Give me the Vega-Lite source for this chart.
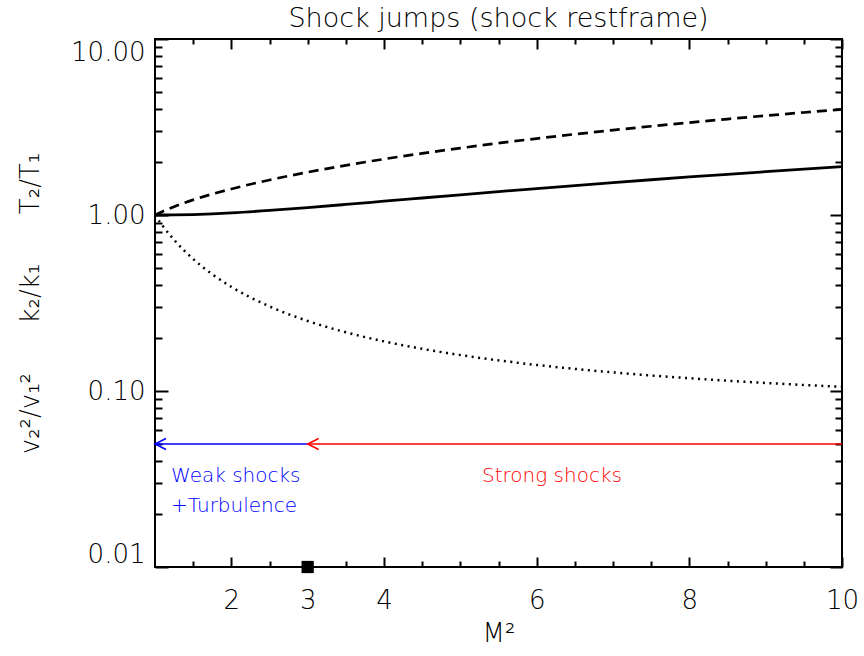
{
  "$schema": "https://vega.github.io/schema/vega-lite/v6.json",
  "autosize": "none",
  "width": 687,
  "height": 528,
  "padding": {"left": 155, "top": 39, "right": 22, "bottom": 89},
  "background": "white",
  "title": {"text": "Shock jumps (shock restframe)", "fontSize": 27, "fontWeight": 200, "font": "DejaVu Sans", "color": "black", "offset": 5, "anchor": "middle"},
  "config": {
    "font": "DejaVu Sans",
    "view": {"stroke": "black", "strokeWidth": 2},
    "axis": {"grid": false, "domain": false, "tickColor": "black", "tickWidth": 2, "labelColor": "black", "titleColor": "black", "labelFont": "DejaVu Sans", "titleFont": "DejaVu Sans", "labelFontWeight": 200, "labelOverlap": false}
  },
  "datasets": {
    "jumps": [
      {"m": 1, "T": 1, "K": 1, "V": 1},
      {"m": 1.1, "T": 1.0483, "K": 1.0001, "V": 0.8683},
      {"m": 1.25, "T": 1.1156, "K": 1.0011, "V": 0.7225},
      {"m": 1.5, "T": 1.2188, "K": 1.0061, "V": 0.5625},
      {"m": 1.75, "T": 1.3147, "K": 1.0153, "V": 0.4605},
      {"m": 2, "T": 1.4063, "K": 1.028, "V": 0.3906},
      {"m": 2.5, "T": 1.5813, "K": 1.0615, "V": 0.3025},
      {"m": 3, "T": 1.75, "K": 1.1024, "V": 0.25},
      {"m": 3.5, "T": 1.9152, "K": 1.1483, "V": 0.2156},
      {"m": 4, "T": 2.0781, "K": 1.1976, "V": 0.1914},
      {"m": 4.5, "T": 2.2396, "K": 1.2494, "V": 0.1736},
      {"m": 5, "T": 2.4, "K": 1.3029, "V": 0.16},
      {"m": 5.5, "T": 2.5597, "K": 1.3578, "V": 0.1493},
      {"m": 6, "T": 2.7188, "K": 1.4138, "V": 0.1406},
      {"m": 6.5, "T": 2.8774, "K": 1.4706, "V": 0.1335},
      {"m": 7, "T": 3.0357, "K": 1.5281, "V": 0.1276},
      {"m": 7.5, "T": 3.1938, "K": 1.5862, "V": 0.1225},
      {"m": 8, "T": 3.3516, "K": 1.6447, "V": 0.1182},
      {"m": 8.5, "T": 3.5092, "K": 1.7035, "V": 0.1144},
      {"m": 9, "T": 3.6667, "K": 1.7628, "V": 0.1111},
      {"m": 9.5, "T": 3.824, "K": 1.8222, "V": 0.1082},
      {"m": 10, "T": 3.9813, "K": 1.882, "V": 0.1056}
    ],
    "regimes": [
      {"kind": "weak", "from": 1, "to": 3, "level": 0.05},
      {"kind": "strong", "from": 3, "to": 10, "level": 0.05}
    ],
    "notes": [
      {"kind": "weak", "label": "Weak shocks", "m": 1.21, "y": 0.0329, "anchor": "left"},
      {"kind": "weak", "label": "+Turbulence", "m": 1.21, "y": 0.0222, "anchor": "left"},
      {"kind": "strong", "label": "Strong shocks", "m": 6.2, "y": 0.0329, "anchor": "center"}
    ],
    "marker": [{"m": 3, "y": 0.01}]
  },
  "resolve": {"axis": {"x": "independent", "y": "independent"}},
  "layer": [
    {
      "data": {"name": "jumps"},
      "mark": {"type": "line", "color": "black", "strokeWidth": 2.7, "strokeDash": [10, 6], "interpolate": "monotone"},
      "encoding": {
        "x": {"field": "m", "type": "quantitative", "scale": {"domain": [1, 10], "nice": false, "zero": false},
          "axis": {"orient": "bottom", "values": [2, 3, 4, 6, 8, 10], "ticks": false, "labelPadding": 20, "labelFontSize": 26, "labelFlush": false, "format": "d", "title": "M²", "titleFontSize": 26, "titleFontWeight": 200, "titleY": 66, "titleBaseline": "middle"}},
        "y": {"field": "T", "type": "quantitative", "scale": {"type": "log", "domain": [0.01, 10], "nice": false},
          "axis": {"orient": "left", "values": [0.01, 0.1, 1, 10], "format": ".2f", "ticks": false, "labelPadding": 10, "labelFontSize": 26, "labelFlush": true,
            "title": "v₂²/v₁²\u00a0\u00a0\u00a0\u00a0\u00a0\u00a0k₂/k₁\u00a0\u00a0\u00a0\u00a0\u00a0\u00a0T₂/T₁", "titleFontSize": 26, "titleFontWeight": 200, "titleAngle": -90, "titleX": -125, "titleY": 264, "titleAlign": "center", "titleBaseline": "middle"}}
      }
    },
    {
      "data": {"name": "jumps"},
      "mark": {"type": "line", "color": "black", "strokeWidth": 2.8, "interpolate": "monotone"},
      "encoding": {
        "x": {"field": "m", "type": "quantitative", "scale": {"domain": [1, 10], "nice": false, "zero": false},
          "axis": {"orient": "bottom", "values": [2, 4, 6, 8, 10], "labels": false, "tickSize": -10, "title": null}},
        "y": {"field": "K", "type": "quantitative", "scale": {"type": "log", "domain": [0.01, 10], "nice": false},
          "axis": {"orient": "left", "values": [0.01, 0.1, 1, 10], "labels": false, "tickSize": -13, "title": null}}
      }
    },
    {
      "data": {"name": "jumps"},
      "mark": {"type": "line", "color": "black", "strokeWidth": 2.5, "strokeDash": [2, 4.5], "interpolate": "monotone"},
      "encoding": {
        "x": {"field": "m", "type": "quantitative", "scale": {"domain": [1, 10], "nice": false, "zero": false},
          "axis": {"orient": "bottom", "values": [1.5, 2.5, 3, 3.5, 4.5, 5, 5.5, 6.5, 7, 7.5, 8.5, 9, 9.5], "labels": false, "tickSize": -6, "title": null}},
        "y": {"field": "V", "type": "quantitative", "scale": {"type": "log", "domain": [0.01, 10], "nice": false},
          "axis": {"orient": "left", "values": [0.02, 0.03, 0.04, 0.05, 0.06, 0.07, 0.08, 0.09, 0.2, 0.3, 0.4, 0.5, 0.6, 0.7, 0.8, 0.9, 2, 3, 4, 5, 6, 7, 8, 9], "labels": false, "tickSize": -7, "title": null}}
      }
    },
    {
      "data": {"name": "regimes"},
      "mark": {"type": "rule", "strokeWidth": 1.5},
      "encoding": {
        "x": {"field": "from", "type": "quantitative", "scale": {"domain": [1, 10], "nice": false, "zero": false},
          "axis": {"orient": "top", "values": [2, 4, 6, 8, 10], "labels": false, "tickSize": -10, "title": null}},
        "x2": {"field": "to"},
        "y": {"field": "level", "type": "quantitative", "scale": {"type": "log", "domain": [0.01, 10], "nice": false},
          "axis": {"orient": "right", "values": [0.01, 0.1, 1, 10], "labels": false, "tickSize": -12, "title": null}},
        "color": {"field": "kind", "type": "nominal", "scale": {"domain": ["weak", "strong"], "range": ["#0000ff", "#ff0000"]}, "legend": null}
      }
    },
    {
      "data": {"name": "regimes"},
      "mark": {"type": "point", "shape": "M2,-1L0,0L2,1", "filled": false, "strokeWidth": 1.5, "size": 121, "opacity": 1},
      "encoding": {
        "x": {"field": "from", "type": "quantitative", "scale": {"domain": [1, 10], "nice": false, "zero": false},
          "axis": {"orient": "top", "values": [1.5, 2.5, 3, 3.5, 4.5, 5, 5.5, 6.5, 7, 7.5, 8.5, 9, 9.5], "labels": false, "tickSize": -5, "title": null}},
        "y": {"field": "level", "type": "quantitative", "scale": {"type": "log", "domain": [0.01, 10], "nice": false},
          "axis": {"orient": "right", "values": [0.02, 0.03, 0.04, 0.05, 0.06, 0.07, 0.08, 0.09, 0.2, 0.3, 0.4, 0.5, 0.6, 0.7, 0.8, 0.9, 2, 3, 4, 5, 6, 7, 8, 9], "labels": false, "tickSize": -7, "title": null}},
        "color": {"field": "kind", "type": "nominal", "legend": null}
      }
    },
    {
      "data": {"name": "notes"},
      "transform": [{"filter": "datum.anchor == 'left'"}],
      "mark": {"type": "text", "fontSize": 20, "fontWeight": 200, "align": "left", "baseline": "middle", "font": "DejaVu Sans"},
      "encoding": {
        "x": {"field": "m", "type": "quantitative", "scale": {"domain": [1, 10], "nice": false, "zero": false}, "axis": null},
        "y": {"field": "y", "type": "quantitative", "scale": {"type": "log", "domain": [0.01, 10], "nice": false}, "axis": null},
        "text": {"field": "label"},
        "color": {"field": "kind", "type": "nominal", "legend": null}
      }
    },
    {
      "data": {"name": "notes"},
      "transform": [{"filter": "datum.anchor == 'center'"}],
      "mark": {"type": "text", "fontSize": 20, "fontWeight": 200, "align": "center", "baseline": "middle", "font": "DejaVu Sans"},
      "encoding": {
        "x": {"field": "m", "type": "quantitative", "scale": {"domain": [1, 10], "nice": false, "zero": false}, "axis": null},
        "y": {"field": "y", "type": "quantitative", "scale": {"type": "log", "domain": [0.01, 10], "nice": false}, "axis": null},
        "text": {"field": "label"},
        "color": {"field": "kind", "type": "nominal", "legend": null}
      }
    },
    {
      "data": {"name": "marker"},
      "mark": {"type": "point", "shape": "square", "filled": true, "color": "black", "size": 150, "opacity": 1},
      "encoding": {
        "x": {"field": "m", "type": "quantitative", "scale": {"domain": [1, 10], "nice": false, "zero": false}, "axis": null},
        "y": {"field": "y", "type": "quantitative", "scale": {"type": "log", "domain": [0.01, 10], "nice": false}, "axis": null}
      }
    }
  ]
}
